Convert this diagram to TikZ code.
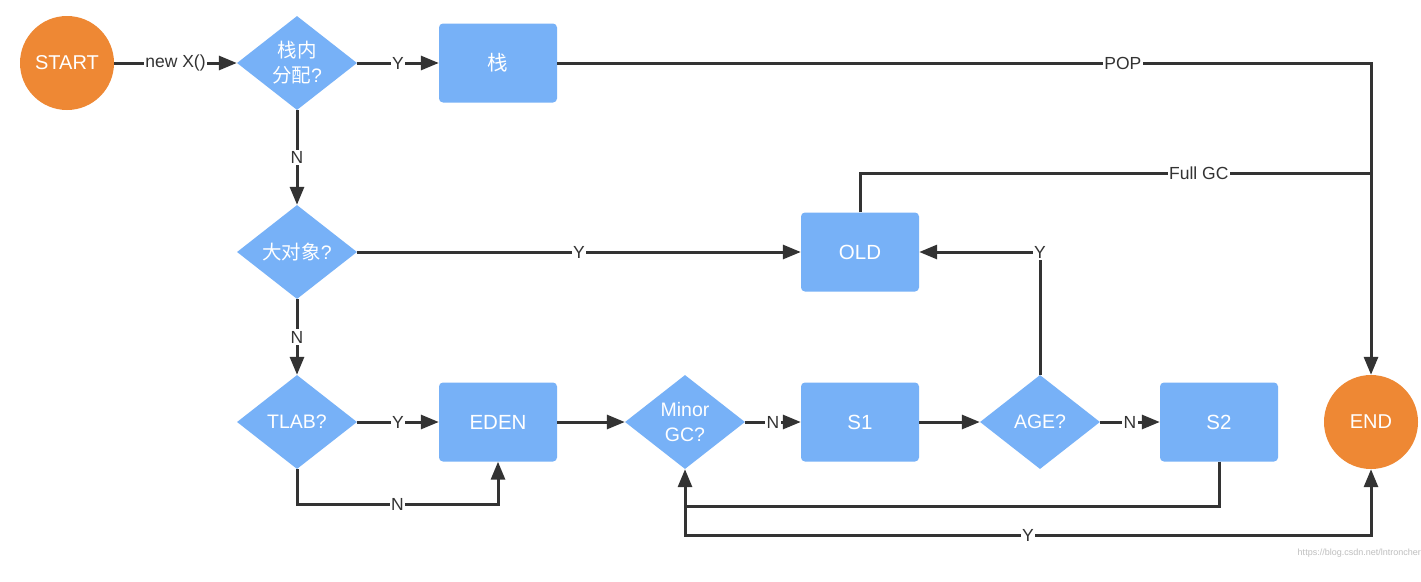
\documentclass[tikz,border=0pt]{standalone}
\usepackage{fontspec}
\setmainfont{Liberation Sans}
\newfontfamily\cjk{Noto Sans CJK SC}
\usetikzlibrary{shapes.geometric,arrows.meta}
\definecolor{orangeC}{RGB}{238,136,52}
\definecolor{blueC}{RGB}{119,177,247}
\definecolor{lineC}{RGB}{51,51,51}
\tikzset{
  term/.style={circle, fill=orangeC, minimum size=94pt, inner sep=0pt, text=white, font=\fontsize{20}{24}\selectfont},
  dec/.style={diamond, fill=blueC, minimum width=120pt, minimum height=94pt, aspect=1.28, inner sep=0pt, text=white, align=center, font=\fontsize{19.5}{25}\selectfont},
  stor/.style={rectangle, rounded corners=4pt, fill=blueC, minimum width=118pt, minimum height=79pt, text=white, font=\fontsize{20.5}{24}\selectfont},
  conn/.style={line width=3pt, draw=lineC},
  arr/.style={conn, -{Triangle[length=18pt,width=14pt]}},
  lbl/.style={fill=white, inner sep=1.5pt, text=lineC, font=\fontsize{17.5}{20}\selectfont}
}
\begin{document}
\begin{tikzpicture}[x=1pt,y=-1pt]
\useasboundingbox[fill=white] (0,0) rectangle (1421,581);
% nodes
\node[term] (start) at (67,63) {START};
\node[dec] (d1) at (297,63) {{\cjk 栈内}\\{\cjk 分配}?};
\node[stor] (zhan) at (498,63) {\cjk 栈};
\node[dec] (big) at (297,252) {{\cjk 大对象}?};
\node[stor] (old) at (860,252) {OLD};
\node[dec] (tlab) at (297,422) {TLAB?};
\node[stor] (eden) at (498,422) {EDEN};
\node[dec] (minor) at (685,422) {Minor\\GC?};
\node[stor] (s1) at (860,422) {S1};
\node[dec] (age) at (1040,422) {AGE?};
\node[stor] (s2) at (1219,422) {S2};
\node[term] (end) at (1371,422) {END};
% helper coordinates
\coordinate (popc) at (1371,63);
\coordinate (fgc) at (1371,173);
\coordinate (jn) at (685,507);
\coordinate (yb) at (685,535);
% connectors
\draw[arr] (start) -- node[lbl]{new X()} (d1);
\draw[arr] (d1) -- node[lbl]{Y} (zhan);
\draw[arr] (d1) -- node[lbl]{N} (big);
\draw[arr] (zhan.east) -- node[lbl,pos=0.695]{POP} (popc) -- (end.north);
\draw[conn] (old.north) -- (old.north |- fgc) -- node[lbl,pos=0.663]{Full GC} (fgc);
\draw[arr] (big) -- node[lbl]{Y} (old);
\draw[arr] (big) -- node[lbl]{N} (tlab);
\draw[arr] (tlab) -- node[lbl]{Y} (eden);
\draw[arr] (tlab.south) -- ++(0,35) -| node[lbl,pos=0.25]{N} (eden.south);
\draw[arr] (eden) -- (minor);
\draw[arr] (minor) -- node[lbl]{N} (s1);
\draw[arr] (s1) -- (age);
\draw[arr] (age) -- node[lbl]{N} (s2);
\draw[arr] (age.north) |- node[lbl,pos=0.5]{Y} (old.east);
\draw[arr] (s2.south) -- ++(0,45) -| (minor.south);
\draw[arr] (jn) -- (yb) -| node[lbl,pos=0.25]{Y} (end.south);
% watermark
\node[anchor=east, text=black!25, font=\fontsize{9}{10}\selectfont, inner sep=0pt] (wm) at (1421,553) {https://blog.csdn.net/lntroncher};
\end{tikzpicture}
\end{document}
